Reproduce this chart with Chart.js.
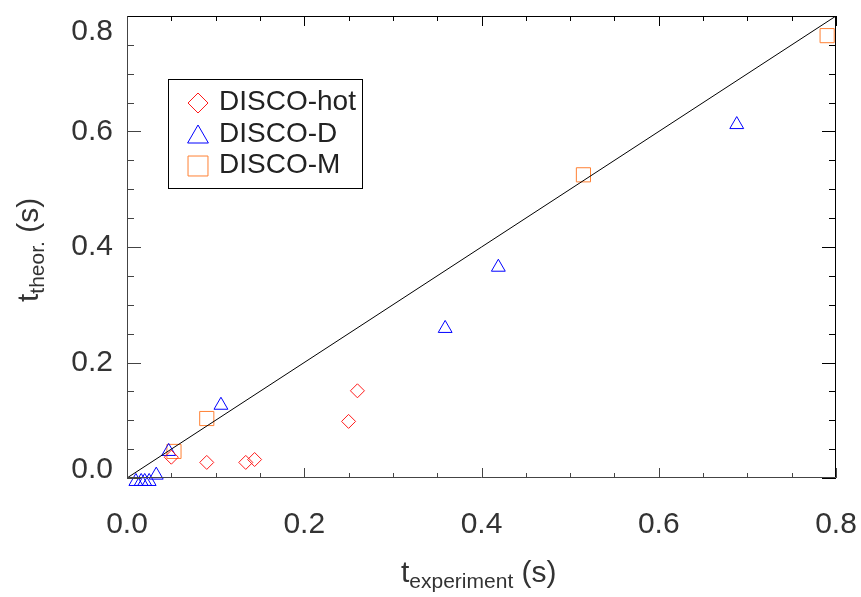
<!DOCTYPE html>
<html>
<head>
<meta charset="utf-8">
<script src="https://cdn.jsdelivr.net/npm/chart.js@4.4.1/dist/chart.umd.min.js"></script>
<style>
  html, body { margin: 0; padding: 0; background: #fff; }
  #wrap { width: 861px; height: 597px; position: relative; }
</style>
</head>
<body>
<div id="wrap"><canvas id="timeChart"></canvas></div>
<script>
// valores (s)
const hotX = [0.050, 0.090, 0.134, 0.144, 0.250, 0.260];
const hotY = [0.036, 0.027, 0.027, 0.032, 0.098, 0.151];

const dX = [0.010, 0.016, 0.020, 0.025, 0.033, 0.047, 0.106, 0.359, 0.419, 0.688];
const dY = [-0.006, -0.006, -0.006, -0.006, 0.005, 0.046, 0.126, 0.259, 0.365, 0.612];

const mX = [0.053, 0.090, 0.515, 0.790];
const mY = [0.046, 0.103, 0.525, 0.766];

const lineX = [0, 0.8];
const lineY = [0, 0.8];

const tickValues = [0, 0.2, 0.4, 0.6, 0.8];
const seriesNames = ['DISCO-hot', 'DISCO-D', 'DISCO-M'];

const FONT = '"Liberation Sans", Arial, Helvetica, sans-serif';
const RED = '#ff1a1a';
const BLUE = '#0000ff';
const ORANGE = '#ff8033';

function toPoints(xs, ys) {
    return xs.map((x, i) => ({ x: x, y: ys[i] }));
}

// marcas interiores, marco, etiquetas del eje y, títulos y leyenda
const framePlugin = {
    id: 'framePlugin',
    afterDraw(chart) {
        const ctx = chart.ctx;
        const a = chart.chartArea;
        const xs = chart.scales.x;
        const ys = chart.scales.y;
        ctx.save();

        // ticks
        ctx.lineWidth = 1;
        for (let i = 0; i <= 16; i++) {
            const v = i * 0.05;
            const major = i % 4 === 0;
            const px = Math.round(xs.getPixelForValue(v)) + 0.5;
            const lx = major ? 10 : 5;
            ctx.strokeStyle = '#444';
            ctx.beginPath(); ctx.moveTo(px, a.bottom); ctx.lineTo(px, a.bottom - lx); ctx.stroke();
            ctx.strokeStyle = '#000';
            ctx.beginPath(); ctx.moveTo(px, a.top); ctx.lineTo(px, a.top + lx); ctx.stroke();

            const py = Math.round(ys.getPixelForValue(v)) + 0.5;
            const ly = major ? 14 : 7;
            ctx.strokeStyle = '#444';
            ctx.beginPath(); ctx.moveTo(a.left, py); ctx.lineTo(a.left + ly, py); ctx.stroke();
            ctx.strokeStyle = '#000';
            ctx.beginPath(); ctx.moveTo(a.right, py); ctx.lineTo(a.right - ly, py); ctx.stroke();
        }

        // marco
        const L = Math.round(a.left) + 0.5, R = Math.round(a.right) - 0.5;
        const T = Math.round(a.top) + 0.5, B = Math.round(a.bottom) - 0.5;
        ctx.strokeStyle = '#000';
        ctx.beginPath(); ctx.moveTo(L, T); ctx.lineTo(R, T); ctx.lineTo(R, B); ctx.stroke();
        ctx.strokeStyle = '#444';
        ctx.beginPath(); ctx.moveTo(L, T); ctx.lineTo(L, B); ctx.lineTo(R, B); ctx.stroke();

        // etiquetas eje y (extremos desplazados hacia dentro)
        ctx.fillStyle = '#333';
        ctx.font = '30px ' + FONT;
        ctx.textAlign = 'right';
        ctx.textBaseline = 'middle';
        tickValues.forEach(v => {
            let y = ys.getPixelForValue(v);
            if (v === ys.max) y += 16;
            if (v === ys.min) y -= 8;
            ctx.fillText(v.toFixed(1), a.left - 14, y);
        });

        // título eje x
        ctx.textAlign = 'left';
        ctx.textBaseline = 'alphabetic';
        drawSubTitle(ctx, 't', 'experiment', ' (s)', 401, 582);

        // título eje y
        ctx.save();
        ctx.translate(38, 302);
        ctx.rotate(-Math.PI / 2);
        drawSubTitle(ctx, 't', 'theor.', ' (s)', 0, 0);
        ctx.restore();

        // leyenda
        ctx.strokeStyle = '#000';
        ctx.lineWidth = 1;
        ctx.strokeRect(168.5, 79.5, 194, 109);
        const styles = [
            { pointStyle: 'rectRot', radius: 10, color: RED, cy: 103 },
            { pointStyle: 'triangle', radius: 12, color: BLUE, cy: 137 },
            { pointStyle: 'rect', radius: 14.1, color: ORANGE, cy: 166 }
        ];
        const baselines = [110, 142, 173];
        styles.forEach((s, i) => {
            ctx.strokeStyle = s.color;
            ctx.fillStyle = 'rgba(0,0,0,0)';
            ctx.lineWidth = 1;
            Chart.helpers.drawPoint(ctx, { pointStyle: s.pointStyle, radius: s.radius, rotation: 0, borderWidth: 1 }, 198, s.cy);
            ctx.fillStyle = '#222';
            ctx.font = '28px ' + FONT;
            ctx.textAlign = 'left';
            ctx.textBaseline = 'alphabetic';
            ctx.fillText(seriesNames[i], 219, baselines[i]);
        });

        ctx.restore();
    }
};

function drawSubTitle(ctx, main, sub, tail, x, y) {
    ctx.fillStyle = '#333';
    ctx.font = '30px ' + FONT;
    ctx.fillText(main, x, y);
    x += ctx.measureText(main).width;
    ctx.font = '21px ' + FONT;
    ctx.fillText(sub, x, y + 6);
    x += ctx.measureText(sub).width;
    ctx.font = '30px ' + FONT;
    ctx.fillText(tail, x, y);
}

const pointBase = { showLine: false, borderWidth: 1, backgroundColor: 'rgba(0,0,0,0)', clip: false };

new Chart(document.getElementById('timeChart').getContext('2d'), {
    type: 'scatter',
    data: {
        datasets: [
            {
                type: 'line',
                label: 'y = x',
                data: toPoints(lineX, lineY),
                borderColor: '#000',
                borderWidth: 1,
                pointRadius: 0,
                fill: false
            },
            Object.assign({
                label: seriesNames[0],
                data: toPoints(hotX, hotY),
                borderColor: RED,
                pointStyle: 'rectRot',
                pointRadius: 7
            }, pointBase),
            Object.assign({
                label: seriesNames[1],
                data: toPoints(dX, dY),
                borderColor: BLUE,
                pointStyle: 'triangle',
                pointRadius: 8
            }, pointBase),
            Object.assign({
                label: seriesNames[2],
                data: toPoints(mX, mY),
                borderColor: ORANGE,
                pointStyle: 'rect',
                pointRadius: 10
            }, pointBase)
        ]
    },
    options: {
        responsive: true,
        maintainAspectRatio: false,
        animation: false,
        layout: { padding: { top: 16, right: 0, left: 0, bottom: 0 } },
        plugins: {
            legend: { display: false },
            tooltip: { enabled: false }
        },
        scales: {
            x: {
                type: 'linear',
                min: 0,
                max: 0.8,
                grid: { display: false, drawTicks: false },
                border: { display: false },
                afterBuildTicks: s => { s.ticks = tickValues.map(v => ({ value: v })); },
                afterFit: s => { s.height = 119; s.paddingLeft = 0; s.paddingRight = 25; },
                ticks: {
                    padding: 29,
                    color: '#333',
                    font: { family: FONT, size: 30 },
                    maxRotation: 0,
                    callback: v => Number(v).toFixed(1)
                }
            },
            y: {
                type: 'linear',
                min: 0,
                max: 0.8,
                grid: { display: false, drawTicks: false },
                border: { display: false },
                afterFit: s => { s.width = 127; },
                ticks: { display: false }
            }
        }
    },
    plugins: [framePlugin]
});
</script>
</body>
</html>
